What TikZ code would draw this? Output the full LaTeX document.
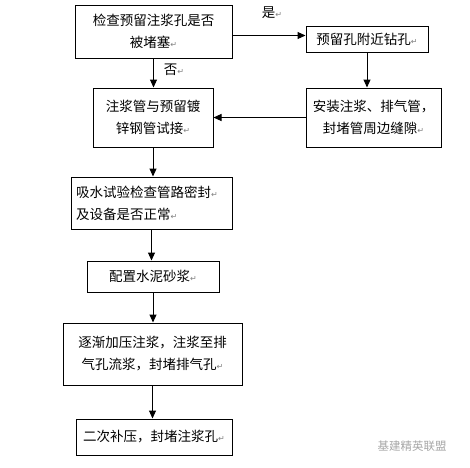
\documentclass[tikz,border=0pt]{standalone}
\usepackage{fontspec}
\setmainfont{Noto Sans CJK SC}
\newfontfamily\symfont{DejaVu Sans}
\usetikzlibrary{arrows.meta,positioning}
\newcommand{\pmark}{{\color{gray}\fontsize{8}{8}\selectfont\symfont ↵}}

\begin{document}
\begin{tikzpicture}[x=1pt, y=-1pt, every node/.style={font=\fontsize{13.5}{22}\selectfont, inner sep=0pt},
  stepbox/.style={draw, line width=1pt, align=center},
  arr/.style={-{Triangle[length=8pt,width=7pt]}, line width=1pt}]
  \useasboundingbox (0,0) rectangle (470,467);
  \node[stepbox, minimum width=157pt, minimum height=53pt] (check) at (153.5,31.5) {检查预留注浆孔是否\\被堵塞\pmark};
  \node[stepbox, minimum width=122pt, minimum height=26pt] (drill) at (367,39) {预留孔附近钻孔\pmark};
  \node[stepbox, minimum width=120pt, minimum height=59pt] (trial) at (153,117.5) {注浆管与预留镀\\锌钢管试接\pmark};
  \node[stepbox, minimum width=135pt, minimum height=59pt] (install) at (373.5,117.5) {安装注浆、排气管，\\封堵管周边缝隙\pmark};
  \node[stepbox, align=left, minimum width=161pt, minimum height=52pt, text width=151pt] (water) at (151.5,203) {吸水试验检查管路密封\pmark\\及设备是否正常\pmark};
  \node[stepbox, minimum width=132pt, minimum height=31pt] (mortar) at (153,276.5) {配置水泥砂浆\pmark};
  \node[stepbox, minimum width=179pt, minimum height=62pt] (grout) at (152.5,354) {逐渐加压注浆，注浆至排\\气孔流浆，封堵排气孔\pmark};
  \node[stepbox, minimum width=156pt, minimum height=36pt] (repress) at (154,437) {二次补压，封堵注浆孔\pmark};
  \node (yes) at (272,13) {是\pmark};
  \node (no) at (174,70) {否\pmark};
  \node[text=gray!70, font=\fontsize{11.5}{12}\selectfont] (mark) at (412,446) {基建精英联盟};
  \draw[arr] ([yshift=-4pt]check.east) -- ([yshift=-4pt]check.east -| drill.west);
  \draw[arr] (check.south) -- (check.south |- trial.north);
  \draw[arr] (drill.south) -- (drill.south |- install.north);
  \draw[arr] (install.west) -- (trial.east);
  \draw[arr] (trial.south) -- (trial.south |- water.north);
  \draw[arr] (water.south) -- (water.south |- mortar.north);
  \draw[arr] (mortar.south) -- (mortar.south |- grout.north);
  \draw[arr] (grout.south) -- (grout.south |- repress.north);
\end{tikzpicture}
\end{document}
